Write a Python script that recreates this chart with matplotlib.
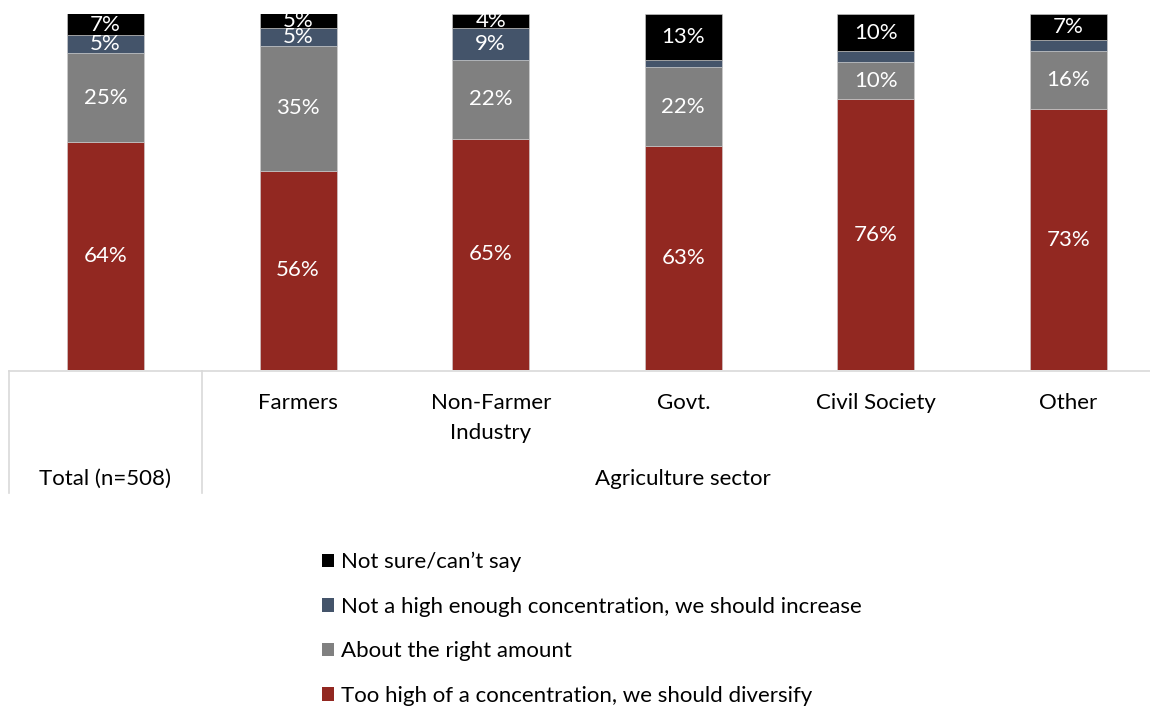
import matplotlib
matplotlib.use("Agg")
import matplotlib.pyplot as plt
from matplotlib.patches import Patch
from matplotlib.lines import Line2D
import numpy as np

plt.rcParams['font.family'] = ['Lato', 'DejaVu Sans']

categories = ["Total (n=508)", "Farmers", "Non-Farmer\nIndustry", "Govt.", "Civil Society", "Other"]
group_label = "Agriculture sector"
series_names = ["Too high of a concentration, we should diversify",
                "About the right amount",
                "Not a high enough concentration, we should increase",
                "Not sure/can\u2019t say"]
too_high = [64, 56, 65, 63, 76.1, 73.3]
right_amount = [25, 35, 22, 22, 10.4, 16.3]
not_enough = [5, 5, 9, 2, 3.1, 3.1]
not_sure = [7, 5, 4, 13, 10.4, 7.3]
colors = ["#922821", "#808080", "#44546A", "#000000"]

W, H = 1150, 706
fig = plt.figure(figsize=(W / 100, H / 100), dpi=100)

# axes geometry in pixels
spacing = 192.6
x0 = 105.5 - spacing / 2
top_px, bot_px = 14, 370
ax = fig.add_axes([x0 / W, 1 - bot_px / H, 6 * spacing / W, (bot_px - top_px) / H])
ax.set_xlim(-0.5, 5.5)
ax.set_ylim(0, 100)
for s in ax.spines.values():
    s.set_visible(False)
ax.set_xticks([])
ax.set_yticks([])

x = np.arange(len(categories))
series = [too_high, right_amount, not_enough, not_sure]
bottom = np.zeros(len(categories))
fs = 16
for vals, col in zip(series, colors):
    vals = np.array(vals, dtype=float)
    ax.bar(x, vals, width=0.4, bottom=bottom, color=col, edgecolor="#d0d0d0", linewidth=0.4)
    for i in range(len(x)):
        if vals[i] >= 4:
            lo = bottom[i]
            hi = min(bottom[i] + vals[i], 100)
            ax.text(x[i], (lo + hi) / 2, f"{vals[i]:.0f}%", ha="center", va="center",
                    color="white", fontsize=fs, clip_on=True)
    bottom += vals

# category axis lines
trans = ax.get_xaxis_transform()
def yfrac(py):
    return (bot_px - py) / (bot_px - top_px)
line_col = "#d9d9d9"
ax.add_line(Line2D([-0.5, 5.5], [yfrac(371), yfrac(371)], transform=trans, color=line_col, lw=1.2, clip_on=False))
for xv in [-0.5, 0.5]:
    ax.add_line(Line2D([xv, xv], [yfrac(371), yfrac(493)], transform=trans, color=line_col, lw=1.2, clip_on=False))

# category labels
for i, c in enumerate(categories):
    if i == 0:
        ax.text(i, yfrac(479), c, transform=trans, ha="center", va="center", fontsize=fs)
    else:
        ax.text(i, yfrac(393), c, transform=trans, ha="center", va="top", fontsize=fs, linespacing=1.6)
ax.text(3, yfrac(479), group_label, transform=trans, ha="center", va="center", fontsize=fs)

# legend
handles = [Patch(facecolor=c, edgecolor="none") for c in colors][::-1]
labels = series_names[::-1]
fig.legend(handles, labels, loc="upper left", bbox_to_anchor=(311 / W, 1 - 541 / H),
           frameon=False, fontsize=fs, handlelength=0.55, handleheight=0.55,
           handletextpad=0.3, labelspacing=1.1, borderpad=0)

fig.savefig("out.png", dpi=100)
